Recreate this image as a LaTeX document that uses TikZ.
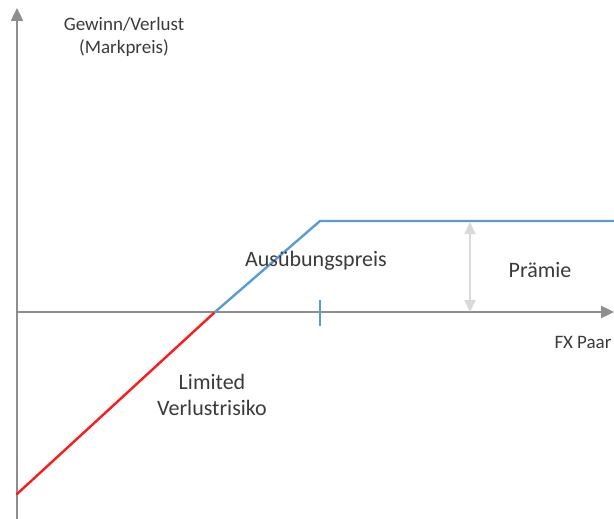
\documentclass[tikz,border=0pt]{standalone}
\usepackage{fontspec}
\setmainfont{Carlito}
\usetikzlibrary{arrows.meta,positioning}
\definecolor{axisgray}{HTML}{8E8E8E}
\definecolor{textgray}{HTML}{3A3A3A}
\definecolor{callblue}{HTML}{5B9BD5}
\definecolor{lossred}{HTML}{FF1A1A}
\definecolor{premgray}{HTML}{D9D9D9}
\tikzset{
  every picture/.style = {
    x = 1pt,
    y = -1pt,
  }
  ,
  axis/.style = {
    draw = axisgray,
    line width = 2.4pt,
    -{Triangle[length=13pt,width=12pt]}
  }
  , % payoff lines
  payoff/.style = {
    line width = 2.4pt,
    line cap = round
  }
  ,
  premium/.style = {
    draw = premgray,
    line width = 1.8pt,
    {Triangle[length=12pt,width=11pt]}-{Triangle[length=12pt,width=11pt]}
  }
  , % labels
  label-big/.style = {
    font = \fontsize{22}{26}\selectfont,
    text = textgray,
    align = center
  }
  ,
  label-small/.style = {
    font = \fontsize{19}{23}\selectfont,
    text = textgray,
    align = center
  }
}
\begin{document}
\begin{tikzpicture}
  \useasboundingbox (0,0) rectangle (614,519);

  \coordinate (o) at (17,312);
  \coordinate (ybot) at (17,519);
  \coordinate (ytop) at (17,8);
  \coordinate (xend) at (614,312);
  \coordinate (low) at (17,494);
  \coordinate (be) at (215,312);
  \coordinate (kink) at (320,221);
  \coordinate (flat) at (614,221);
  \coordinate (ticktop) at (320,300);
  \coordinate (tickbot) at (320,326);
  \coordinate (ptop) at (470,222);
  \coordinate (pbot) at (470,312);

  \draw [axis] (ybot) -- (ytop);
  \draw [axis] (o) -- (xend);

  \draw [payoff, lossred] (low) -- (be);
  \draw [payoff, callblue] (be) -- (kink) -- (flat);
  \draw [callblue, line width=2pt] (ticktop) -- (tickbot);
  \draw [premium] (ptop) -- (pbot);

  \node [label-small] (yl) at (124,37) {Gewinn/Verlust\\(Markpreis)};
  \node [label-small] (xl) at (583,342) {FX Paar};
  \node [label-big] (strike) at (316,261) {Ausübungspreis};
  \node [label-big] (prem) at (540,270) {Prämie};
  \node [label-big] (risk) at (212,395) {Limited\\Verlustrisiko};
\end{tikzpicture}
\end{document}
